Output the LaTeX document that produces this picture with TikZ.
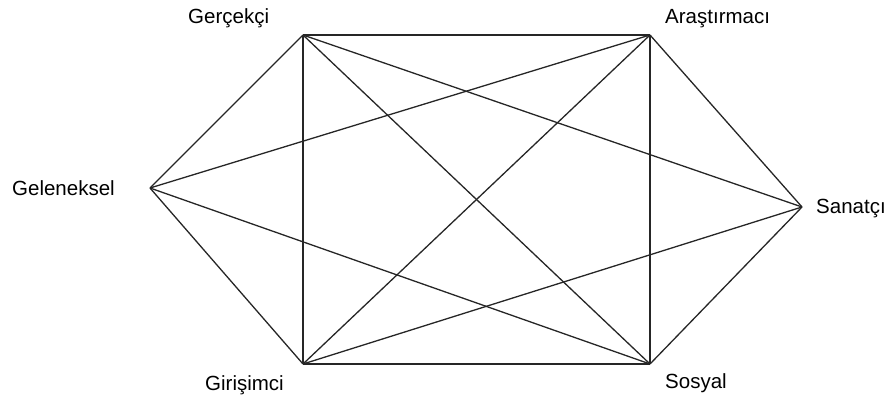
\documentclass[tikz,border=0pt]{standalone}
\usepackage{fontspec}
\setmainfont{Liberation Sans}
\usetikzlibrary{positioning}

\begin{document}
\begin{tikzpicture}[x=1pt, y=-1pt,
		edge/.style={line width=1.3pt, black!85},
		lbl/.style={anchor=base west, inner sep=0pt, font=\fontsize{20.5}{24}\selectfont}]
	\useasboundingbox (0,0) rectangle (891,398);
	% hexagon corners
	\coordinate (ger) at (303,35);
	\coordinate (ara) at (650,35);
	\coordinate (san) at (802,207);
	\coordinate (sos) at (650,364);
	\coordinate (gir) at (303,364);
	\coordinate (gel) at (150,188);
	% connections
	\foreach \a/\b in {ger/ara, ger/san, ger/sos, ger/gir, ger/gel,
			ara/san, ara/sos, ara/gir, ara/gel,
			san/sos, san/gir,
			sos/gir, sos/gel, gir/gel}
		\draw[edge] (\a) -- (\b);
	% labels
	\node[lbl] (gerlbl) at (188,24) {Gerçekçi};
	\node[lbl] (aralbl) at (665,24) {Araştırmacı};
	\node[lbl] (sanlbl) at (816,214) {Sanatçı};
	\node[lbl] (soslbl) at (665,388) {Sosyal};
	\node[lbl] (girlbl) at (205,390) {Girişimci};
	\node[lbl] (gellbl) at (12,196) {Geleneksel};
\end{tikzpicture}
\end{document}
